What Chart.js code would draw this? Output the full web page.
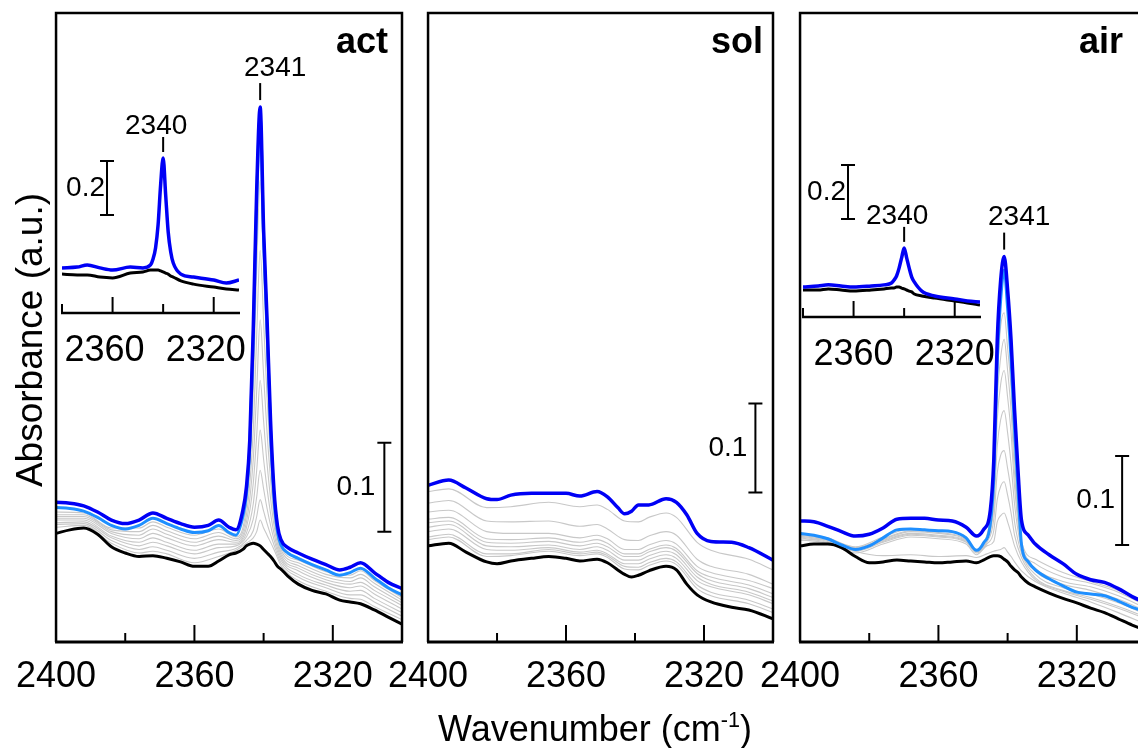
<!DOCTYPE html>
<html>
<head>
<meta charset="utf-8">
<title>CO2 region spectra</title>
<script src="https://cdn.jsdelivr.net/npm/chart.js@4.4.0/dist/chart.umd.min.js"></script>
<style>
  html, body { margin: 0; padding: 0; background: #fff; overflow: hidden; }
  body { width: 1138px; height: 748px; position: relative; font-family: "Liberation Sans", Arial, sans-serif; color: #000; }
  .box { position: absolute; }
  .xtitle { position: absolute; left: 395px; top: 711px; width: 400px; text-align: center; font-size: 36px; line-height: 36px; }
  .xtitle sup { font-size: 60%; vertical-align: 0.65em; line-height: 0; }
  .ytitle { position: absolute; left: -170px; top: 320px; width: 400px; height: 40px; line-height: 40px;
            text-align: center; font-size: 37px; transform: rotate(-90deg); }
</style>
</head>
<body>
<div class="box" style="left:3px;top:0;width:449px;height:748px"><canvas id="act"></canvas></div>
<div class="box" style="left:375px;top:0;width:448px;height:748px"><canvas id="sol"></canvas></div>
<div class="box" style="left:747px;top:0;width:449px;height:748px"><canvas id="air"></canvas></div>
<div class="box" style="left:22px;top:100px;width:257px;height:273px"><canvas id="actInset"></canvas></div>
<div class="box" style="left:763px;top:100px;width:257px;height:277px"><canvas id="airInset"></canvas></div>
<div class="xtitle">Wavenumber (cm<sup>-1</sup>)</div>
<div class="ytitle">Absorbance (a.u.)</div>

<script>
// tick labels
const mainLabels = [2400, 2360, 2320];
const insetLabels = [2360, 2320];

// ---- act ----
const actWn = [2400,2396,2392,2388,2384,2380,2376,2372,2368,2364,2360,2356,2353,2350,2348,2346,2345,2344,2343,2342,2341,2340,2339,2338,2337,2336,2335,2333,2330,2326,2322,2318,2315,2312,2308,2304,2300];
const actBlue = [.157,.156,.153,.146,.137,.133,.137,.145,.139,.133,.129,.131,.137,.129,.126,.148,.173,.227,.351,.508,.601,.463,.362,.249,.171,.131,.115,.106,.100,.093,.087,.081,.084,.089,.078,.067,.060];
const actLight = [.151,.150,.147,.140,.131,.127,.131,.139,.133,.127,.123,.125,.131,.123,.120,.141,.165,.218,.340,.496,.590,.452,.350,.238,.162,.124,.109,.100,.094,.087,.081,.075,.078,.083,.072,.061,.053];
const actBlack = [.122,.126,.128,.121,.107,.100,.096,.097,.094,.090,.085,.085,.091,.098,.100,.104,.108,.110,.111,.110,.108,.104,.100,.096,.091,.085,.082,.074,.065,.058,.054,.047,.045,.043,.036,.028,.020];
const actGrayWn = [2400,2392,2384,2376,2372,2368,2360,2353,2348,2345,2343,2342,2341,2340,2339,2337,2335,2330,2322,2315,2312,2308,2300];
const actGrays = [
  [.129,.131,.111,.100,.102,.099,.089,.096,.103,.111,.117,.124,.137,.128,.120,.104,.086,.069,.057,.049,.048,.040,.025],
  [.132,.133,.114,.104,.107,.103,.094,.101,.105,.114,.125,.141,.160,.147,.133,.109,.089,.073,.061,.053,.053,.045,.029],
  [.134,.135,.117,.108,.112,.108,.099,.106,.108,.118,.138,.163,.193,.172,.150,.115,.092,.076,.064,.057,.058,.049,.033],
  [.137,.137,.119,.112,.117,.112,.103,.110,.110,.122,.155,.193,.238,.205,.172,.122,.095,.080,.067,.061,.063,.054,.037],
  [.139,.139,.122,.116,.122,.117,.108,.115,.112,.128,.178,.232,.294,.248,.200,.131,.098,.083,.070,.065,.067,.058,.041],
  [.141,.141,.124,.120,.127,.121,.112,.119,.114,.134,.205,.282,.362,.300,.235,.141,.101,.086,.073,.068,.072,.062,.044],
  [.143,.143,.126,.124,.131,.125,.116,.123,.116,.142,.238,.345,.440,.360,.275,.152,.104,.089,.076,.072,.076,.066,.047],
  [.146,.145,.128,.128,.135,.129,.120,.127,.118,.152,.280,.420,.519,.420,.320,.163,.107,.092,.079,.075,.080,.069,.050]
];

// ---- sol ----
const solWn = [2400,2394,2389,2383,2380,2376,2370,2365,2360,2356,2351,2348,2345,2343,2341,2339,2336,2331,2328,2325,2322,2318,2312,2307,2300];
const solBlue = [.176,.182,.173,.161,.160,.165,.167,.167,.167,.164,.169,.163,.151,.144,.147,.154,.154,.161,.157,.143,.122,.113,.112,.106,.092];
const solBlack = [.108,.111,.101,.090,.088,.091,.094,.096,.094,.091,.093,.089,.081,.076,.073,.075,.080,.085,.081,.065,.053,.045,.039,.036,.026];
const solGrayWn = [2400,2394,2383,2376,2365,2356,2351,2348,2343,2339,2336,2331,2328,2322,2318,2307,2300];
const solGrays = [
  [.115,.118,.096,.097,.102,.097,.099,.095,.082,.081,.086,.091,.087,.060,.052,.043,.033],
  [.118,.121,.099,.099,.104,.099,.101,.097,.085,.084,.089,.094,.090,.064,.056,.047,.037],
  [.124,.127,.104,.103,.106,.101,.103,.099,.088,.088,.093,.098,.094,.069,.062,.053,.043],
  [.129,.132,.108,.107,.109,.104,.107,.103,.092,.092,.097,.102,.098,.073,.065,.056,.046],
  [.134,.136,.112,.111,.113,.108,.111,.107,.096,.096,.101,.106,.102,.077,.069,.060,.050],
  [.138,.140,.116,.115,.117,.112,.115,.111,.099,.099,.104,.109,.105,.080,.073,.064,.054],
  [.146,.148,.124,.122,.122,.117,.120,.116,.104,.104,.109,.114,.110,.085,.078,.069,.060],
  [.156,.159,.136,.135,.136,.130,.132,.127,.115,.114,.119,.124,.120,.093,.085,.076,.065],
  [.169,.172,.151,.152,.157,.152,.154,.149,.136,.135,.140,.145,.140,.112,.103,.093,.081]
];

// ---- air ----
const airWn = [2400,2396,2392,2388,2384,2380,2376,2372,2368,2364,2360,2356,2352,2349,2347,2345,2344,2343,2342,2341,2340,2339,2338,2337,2336,2334,2332,2328,2324,2320,2316,2312,2308,2304,2300];
const airBlue = [.136,.135,.130,.124,.119,.121,.128,.138,.139,.139,.137,.136,.129,.119,.126,.148,.204,.339,.407,.433,.396,.339,.261,.193,.137,.120,.110,.098,.088,.076,.070,.067,.060,.051,.044];
const airLight = [.122,.120,.116,.109,.104,.108,.117,.126,.127,.126,.125,.124,.117,.103,.111,.133,.185,.315,.385,.418,.375,.318,.240,.172,.110,.090,.081,.071,.063,.056,.054,.052,.046,.039,.034];
const airBlack = [.108,.110,.110,.106,.096,.089,.090,.092,.091,.090,.089,.090,.091,.089,.092,.096,.097,.097,.096,.093,.090,.085,.081,.078,.073,.066,.062,.055,.049,.044,.038,.033,.026,.019,.013];
const airGrayWn = [2400,2392,2384,2376,2368,2360,2352,2349,2346,2344,2343,2342,2341,2340,2339,2338,2336,2332,2324,2316,2308,2300];
const airGrays = [
  [.114,.116,.102,.097,.098,.096,.097,.095,.099,.102,.103,.104,.106,.101,.096,.090,.080,.068,.055,.045,.033,.020],
  [.115,.111,.100,.110,.118,.116,.110,.098,.108,.113,.135,.142,.145,.135,.122,.108,.090,.070,.057,.048,.038,.026],
  [.117,.112,.102,.112,.120,.118,.112,.100,.110,.125,.160,.175,.180,.165,.145,.120,.095,.072,.058,.050,.040,.028],
  [.118,.113,.103,.113,.121,.119,.113,.101,.112,.138,.190,.210,.215,.195,.170,.135,.100,.076,.061,.054,.044,.031],
  [.119,.114,.104,.114,.122,.120,.114,.102,.114,.150,.220,.250,.260,.235,.200,.155,.105,.080,.065,.058,.048,.035],
  [.120,.115,.105,.115,.124,.122,.115,.102,.116,.160,.250,.290,.305,.275,.235,.175,.108,.083,.068,.062,.052,.038],
  [.121,.116,.106,.116,.125,.123,.116,.103,.118,.170,.275,.320,.340,.305,.260,.190,.111,.088,.073,.066,.056,.041],
  [.123,.117,.107,.118,.127,.125,.118,.104,.120,.180,.295,.355,.370,.330,.285,.205,.113,.093,.078,.068,.058,.042]
];

// ---- insets (first and last spectrum, 0.2 scale) ----
const insetWn = [2380,2374,2370,2365,2360,2353,2348,2345,2344,2343,2342,2341,2340,2339,2338,2337,2336,2333,2328,2320,2315,2310];
const actInsetBlue = [.167,.170,.178,.167,.159,.170,.167,.178,.200,.241,.326,.474,.574,.437,.300,.226,.185,.144,.133,.122,.111,.122];
const actInsetBlack = [.144,.141,.141,.133,.130,.148,.152,.159,.159,.159,.159,.156,.152,.148,.144,.137,.133,.119,.107,.096,.089,.085];
const airInsetBlue = [.111,.115,.119,.115,.111,.115,.119,.126,.137,.152,.181,.219,.256,.219,.181,.148,.130,.096,.078,.067,.059,.056];
const airInsetBlack = [.100,.100,.104,.100,.096,.100,.104,.107,.107,.111,.111,.107,.104,.100,.096,.093,.085,.078,.070,.059,.052,.044];

const BLUE = '#0000f5', LIGHT = '#1e8fff', GRAY = '#c8c8c8', BLACK = '#000000';
const FONT = '"Liberation Sans", Arial, sans-serif';
Chart.defaults.font.family = FONT;

function series(wn, vals) {
  return wn.map((w, i) => ({ x: w, y: vals[i] }));
}

function line(data, color, width, order) {
  return { data, borderColor: color, borderWidth: width, pointRadius: 0, fill: false,
           cubicInterpolationMode: 'monotone', order };
}

function valueAt(wn, vals, w) {
  return vals[wn.indexOf(w)];
}

// frame, inward ticks, scale bar, peak marker and panel tag
const decor = {
  id: 'decor',
  afterDraw(chart, args, o) {
    const { ctx, chartArea: a } = chart;
    const x = chart.scales.x, y = chart.scales.y;
    ctx.save();
    ctx.strokeStyle = '#000';
    ctx.fillStyle = '#000';

    if (o.frame) {
      ctx.lineWidth = 2.5;
      ctx.beginPath();
      ctx.moveTo(a.left, a.bottom);
      ctx.lineTo(a.left, a.top);
      ctx.lineTo(a.right, a.top);
      ctx.lineTo(a.right, a.bottom);
      ctx.stroke();
    }
    ctx.lineWidth = o.axisWidth;
    ctx.beginPath();
    ctx.moveTo(a.left - 1, a.bottom);
    ctx.lineTo(a.right + 1, a.bottom);
    ctx.stroke();

    ctx.lineWidth = 2;
    o.ticks.forEach(t => {
      const px = x.getPixelForValue(t.v);
      ctx.beginPath();
      ctx.moveTo(px, a.bottom);
      ctx.lineTo(px, a.bottom - t.len);
      ctx.stroke();
    });

    const b = o.bar;
    if (b) {
      const bx = x.getPixelForValue(b.at);
      const y0 = y.getPixelForValue(b.from);
      const y1 = y.getPixelForValue(b.from + b.size);
      ctx.lineWidth = 2;
      ctx.beginPath();
      ctx.moveTo(bx, y0); ctx.lineTo(bx, y1);
      ctx.moveTo(bx - 7, y0); ctx.lineTo(bx + 7, y0);
      ctx.moveTo(bx - 7, y1); ctx.lineTo(bx + 7, y1);
      ctx.stroke();
      ctx.font = b.font + 'px ' + FONT;
      ctx.textAlign = 'right';
      ctx.textBaseline = 'middle';
      ctx.fillText(b.label, bx - b.gap, (y0 + y1) / 2);
    }

    const p = o.peak;
    if (p) {
      const px = x.getPixelForValue(p.x);
      const py = y.getPixelForValue(p.y);
      ctx.lineWidth = 2;
      ctx.beginPath();
      ctx.moveTo(px, py - p.m0);
      ctx.lineTo(px, py - p.m1);
      ctx.stroke();
      ctx.font = '28px ' + FONT;
      ctx.textAlign = 'center';
      ctx.textBaseline = 'middle';
      ctx.fillText(String(p.x), px + p.dx, py - p.ty);
    }

    if (o.tag) {
      ctx.font = 'bold 36px ' + FONT;
      ctx.textAlign = 'right';
      ctx.textBaseline = 'alphabetic';
      ctx.fillText(o.tag.text, a.right - o.tag.inset, o.tag.base);
    }
    ctx.restore();
  }
};

function makeChart(id, datasets, cfg) {
  return new Chart(document.getElementById(id), {
    type: 'line',
    data: { datasets },
    options: {
      responsive: true,
      maintainAspectRatio: false,
      animation: false,
      events: [],
      layout: { autoPadding: false, padding: cfg.padding },
      plugins: { legend: { display: false }, tooltip: { enabled: false }, decor: cfg.decor },
      scales: {
        x: {
          type: 'linear', reverse: true, min: cfg.xmin, max: cfg.xmax,
          grid: { display: false, drawTicks: false },
          border: { display: false },
          ticks: {
            padding: cfg.tickPad, labelOffset: cfg.labelShift || 0, autoSkip: false, maxRotation: 0,
            color: '#000', font: { size: cfg.tickSize },
            callback: v => String(v)
          },
          afterBuildTicks: s => { s.ticks = cfg.labels.map(v => ({ value: v })); },
          afterFit: s => { s.height = cfg.axisHeight; }
        },
        y: { display: false, min: 0, max: cfg.ymax }
      }
    },
    plugins: [decor]
  });
}

function panelSets(wn, blue, light, black, grayWn, grays) {
  const sets = grays.map(g => line(series(grayWn, g), GRAY, 1.1, 4));
  sets.push(line(series(wn, black), BLACK, 3, 3));
  if (light) sets.push(line(series(wn, light), LIGHT, 3, 2));
  sets.push(line(series(wn, blue), BLUE, 3.5, 1));
  return sets;
}

const mainTicks = [{ v: 2380, len: 9 }, { v: 2360, len: 17 }, { v: 2340, len: 9 }, { v: 2320, len: 17 }];
const insetTicks = [{ v: 2380, len: 9 }, { v: 2360, len: 16 }, { v: 2340, len: 9 }, { v: 2320, len: 16 }];

function mainCfg(decorOpts) {
  return {
    padding: { left: 50, right: 50, top: 13, bottom: 0 },
    xmin: 2300, xmax: 2400, ymax: 0.7067, labels: mainLabels,
    tickPad: 13, tickSize: 36, axisHeight: 106,
    decor: Object.assign({ frame: true, axisWidth: 3, ticks: mainTicks }, decorOpts)
  };
}

function insetCfg(ymax, labelShift, decorOpts) {
  return {
    padding: { left: 40, right: 40, top: 40, bottom: 0 },
    xmin: 2310, xmax: 2380, ymax, labels: insetLabels, labelShift,
    tickPad: 16, tickSize: 36, axisHeight: 60,
    decor: Object.assign({ frame: false, axisWidth: 2.5, ticks: insetTicks }, decorOpts)
  };
}

makeChart('act', panelSets(actWn, actBlue, actLight, actBlack, actGrayWn, actGrays), mainCfg({
  bar: { at: 2305.1, from: 0.124, size: 0.1, label: '0.1', gap: 9, font: 28 },
  peak: { x: 2341, y: valueAt(actWn, actBlue, 2341), m0: 24, m1: 7, ty: 39, dx: 15 },
  tag: { text: 'act', inset: 14, base: 53 }
}));

makeChart('sol', panelSets(solWn, solBlue, null, solBlack, solGrayWn, solGrays), mainCfg({
  bar: { at: 2305.1, from: 0.168, size: 0.1, label: '0.1', gap: 8, font: 28 },
  tag: { text: 'sol', inset: 10, base: 53 }
}));

makeChart('air', panelSets(airWn, airBlue, airLight, airBlack, airGrayWn, airGrays), mainCfg({
  bar: { at: 2306.9, from: 0.109, size: 0.1, label: '0.1', gap: 7, font: 28 },
  peak: { x: 2341, y: valueAt(airWn, airBlue, 2341), m0: 24, m1: 7, ty: 39, dx: 15 },
  tag: { text: 'air', inset: 23, base: 53 }
}));

makeChart('actInset', [
  line(series(insetWn, actInsetBlack), BLACK, 3, 2),
  line(series(insetWn, actInsetBlue), BLUE, 3.5, 1)
], insetCfg(0.6407, -8, {
  bar: { at: 2362.2, from: 0.363, size: 0.2, label: '0.2', gap: 2, font: 28 },
  peak: { x: 2340, y: valueAt(insetWn, actInsetBlue, 2340), m0: 21, m1: 6, ty: 32, dx: -7 }
}));

makeChart('airInset', [
  line(series(insetWn, airInsetBlack), BLACK, 3, 2),
  line(series(insetWn, airInsetBlue), BLUE, 3.5, 1)
], insetCfg(0.6556, 0, {
  bar: { at: 2362.2, from: 0.363, size: 0.2, label: '0.2', gap: 2, font: 28 },
  peak: { x: 2340, y: valueAt(insetWn, airInsetBlue, 2340), m0: 21, m1: 6, ty: 32, dx: -7 }
}));
</script>
</body>
</html>
